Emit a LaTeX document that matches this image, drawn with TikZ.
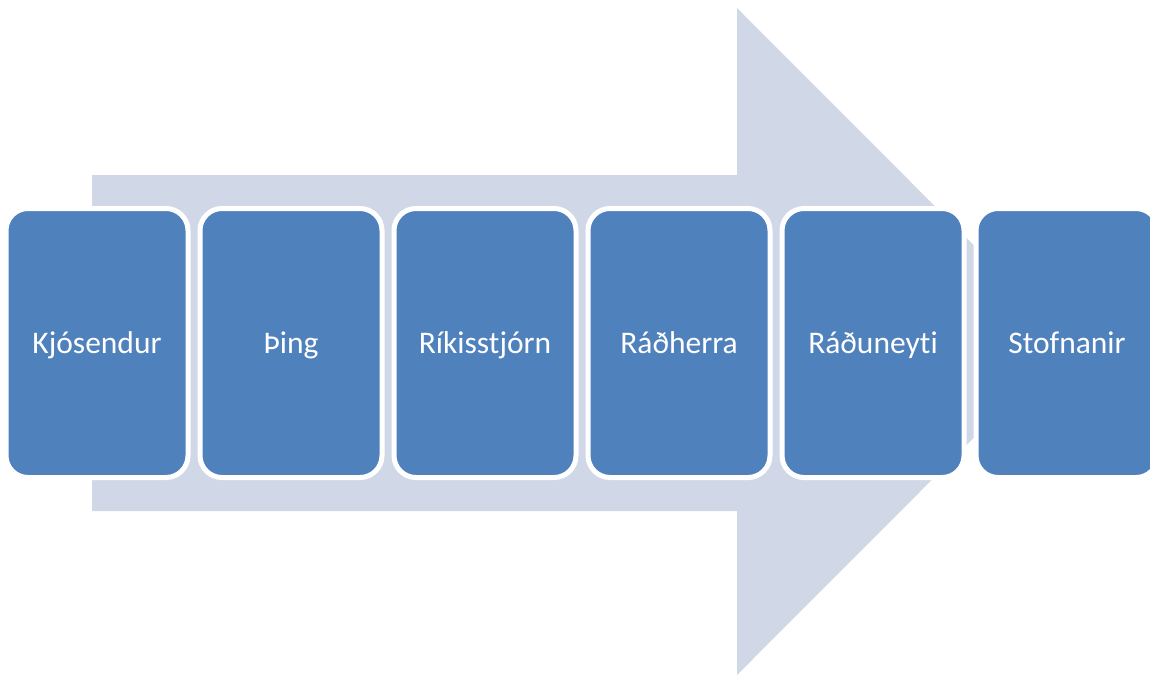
\documentclass[tikz,border=0pt]{standalone}
\usepackage{fontspec}
\setmainfont{Carlito}[Ligatures=NoCommon]
\definecolor{arrowfill}{HTML}{D0D8E8}
\definecolor{boxfill}{HTML}{4F81BD}
\tikzset{
  stagebox/.style={rectangle, rounded corners=22pt, fill=boxfill, draw=white, line width=5pt,
    minimum width=182pt, minimum height=269pt, inner sep=0pt,
    text height=21pt, text depth=1pt,
    text=white, font=\fontsize{31.5}{36}\selectfont}
}
\begin{document}
\begin{tikzpicture}[x=1pt,y=-1pt]
\useasboundingbox (0,0) rectangle (1150,675);
\clip (0,0) rectangle (1150,675);
\fill[arrowfill] (92,175) -- (737,175) -- (737,8) -- (1070,341.5) -- (737,675) -- (737,511) -- (92,511) -- cycle;
\node[stagebox] (k) at (97,343) {Kjósendur};
\node[stagebox] (t) at (291,343) {Þing};
\node[stagebox] (r) at (485,343) {Ríkisstjórn};
\node[stagebox] (h) at (679,343) {Ráðherra};
\node[stagebox] (n) at (873,343) {Ráðuneyti};
\node[stagebox] (s) at (1067,343) {Stofnanir};
\end{tikzpicture}
\end{document}
